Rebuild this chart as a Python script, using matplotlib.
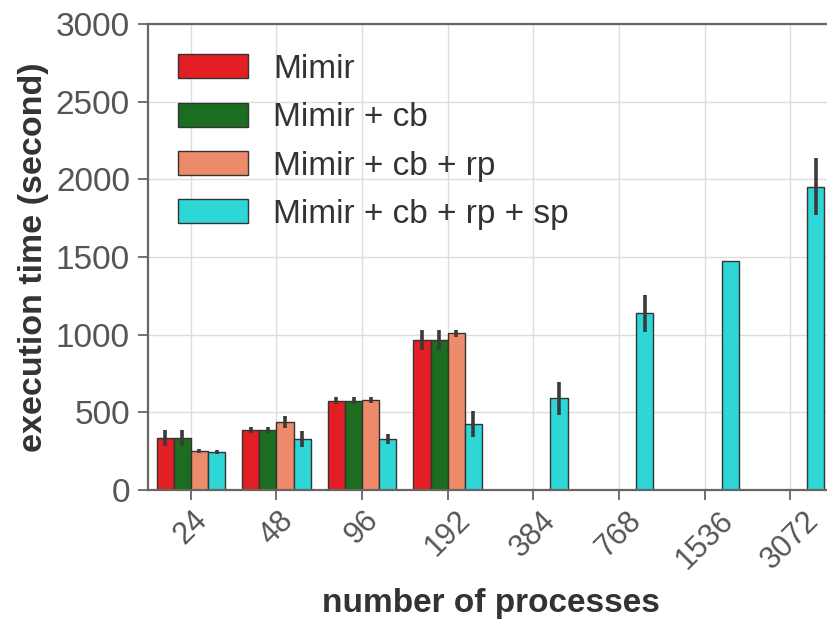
import numpy as np
import matplotlib
matplotlib.use('Agg')
import matplotlib.pyplot as plt

plt.rcParams['font.family'] = ['Liberation Sans', 'DejaVu Sans']

procs = ['24', '48', '96', '192', '384', '768', '1536', '3072']
series = ['Mimir', 'Mimir + cb', 'Mimir + cb + rp', 'Mimir + cb + rp + sp']

nan = np.nan
mimir = [335, 388, 575, 966, nan, nan, nan, nan]
mimir_cb = [335, 388, 575, 966, nan, nan, nan, nan]
mimir_cb_rp = [252, 437, 580, 1009, nan, nan, nan, nan]
mimir_cb_rp_sp = [245, 328, 328, 425, 590, 1138, 1476, 1953]

mimir_err = [50, 18, 22, 63, nan, nan, nan, nan]
mimir_cb_err = [50, 18, 22, 63, nan, nan, nan, nan]
mimir_cb_rp_err = [12, 38, 20, 22, nan, nan, nan, nan]
mimir_cb_rp_sp_err = [15, 50, 30, 85, 107, 120, 0, 185]

colors = ['#e31e24', '#1b6e1f', '#ec8a6a', '#2ed6d6']

values = [mimir, mimir_cb, mimir_cb_rp, mimir_cb_rp_sp]
errors = [mimir_err, mimir_cb_err, mimir_cb_rp_err, mimir_cb_rp_sp_err]

fig = plt.figure(figsize=(8.27, 6.19), dpi=100)
ax = fig.add_axes([148 / 827, 1 - 490 / 619, 685 / 827, 466 / 619])

x = np.arange(len(procs))
w = 0.2
for i in range(4):
    ax.bar(x + (i - 1.5) * w, values[i], w, yerr=errors[i], color=colors[i],
           edgecolor='#333333', linewidth=1.0, label=series[i], zorder=2,
           error_kw=dict(ecolor='#3a3a3a', elinewidth=2.6, capsize=0, zorder=3))

ax.set_xlim(-0.5, 7.5)
ax.set_ylim(0, 3000)
ax.set_yticks([0, 500, 1000, 1500, 2000, 2500, 3000])
ax.set_xticks(x)
ax.set_xticklabels(procs, rotation=45, ha='center')

ax.grid(True, color='#dddddd', linewidth=1.0, zorder=0)
ax.set_axisbelow(True)
for s in ax.spines.values():
    s.set_color('#666666')
    s.set_linewidth(1.6)
ax.tick_params(axis='both', direction='out', length=7, width=1.3, color='#666666',
               labelcolor='#555555')
ax.tick_params(axis='y', labelsize=24, pad=6)
ax.tick_params(axis='x', labelsize=22, pad=4)

ax.set_ylabel('execution time (second)', fontsize=24.5, fontweight='bold', color='#333333',
              labelpad=5)
ax.set_xlabel('number of processes', fontsize=24, fontweight='bold', color='#333333',
              labelpad=10)

ax.legend(loc='upper left', bbox_to_anchor=(0.0, 1.0), frameon=False, fontsize=24,
          handlelength=2.1, handleheight=0.73, labelspacing=0.52, handletextpad=0.75,
          borderaxespad=0.5, labelcolor='#333333')

fig.savefig('out.png', dpi=100)
